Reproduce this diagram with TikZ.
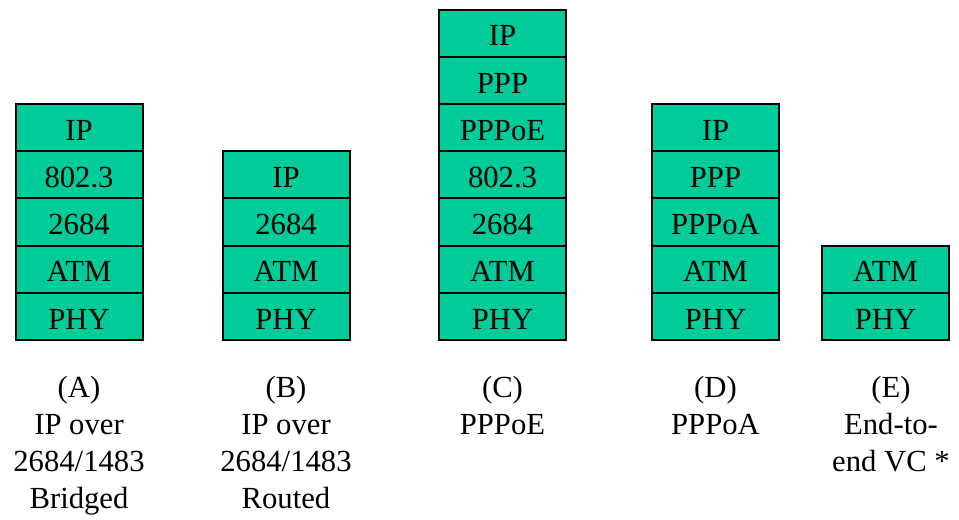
\documentclass[tikz,border=0pt]{standalone}
\usepackage{fontspec}
\setmainfont{Liberation Serif}
\definecolor{boxgreen}{HTML}{00CC99}
\begin{document}
\begin{tikzpicture}[x=0.75pt,y=-0.75pt,
  layer/.style={draw=black, fill=boxgreen, line width=1.5pt, minimum width=95.25pt,
    minimum height=35.4pt, inner sep=0pt, text height=18.9pt, text depth=0pt,
    font=\fontsize{23}{28}\selectfont},
  lbl/.style={anchor=base, inner sep=0pt, font=\fontsize{23}{28}\selectfont}]
\useasboundingbox (0,0) rectangle (959,519);
% row centers: bottom 340, height 47.2
\def\rh{47.2}
% Stack A
\node[layer] (a5) at (79,{340-0.5*\rh}) {PHY};
\node[layer] (a4) at (79,{340-1.5*\rh}) {ATM};
\node[layer] (a3) at (79,{340-2.5*\rh}) {2684};
\node[layer] (a2) at (79,{340-3.5*\rh}) {802.3};
\node[layer] (a1) at (79,{340-4.5*\rh}) {IP};
% Stack B
\node[layer] (b4) at (286,{340-0.5*\rh}) {PHY};
\node[layer] (b3) at (286,{340-1.5*\rh}) {ATM};
\node[layer] (b2) at (286,{340-2.5*\rh}) {2684};
\node[layer] (b1) at (286,{340-3.5*\rh}) {IP};
% Stack C
\node[layer] (c7) at (502.5,{340-0.5*\rh}) {PHY};
\node[layer] (c6) at (502.5,{340-1.5*\rh}) {ATM};
\node[layer] (c5) at (502.5,{340-2.5*\rh}) {2684};
\node[layer] (c4) at (502.5,{340-3.5*\rh}) {802.3};
\node[layer] (c3) at (502.5,{340-4.5*\rh}) {PPPoE};
\node[layer] (c2) at (502.5,{340-5.5*\rh}) {PPP};
\node[layer] (c1) at (502.5,{340-6.5*\rh}) {IP};
% Stack D
\node[layer] (d5) at (715.5,{340-0.5*\rh}) {PHY};
\node[layer] (d4) at (715.5,{340-1.5*\rh}) {ATM};
\node[layer] (d3) at (715.5,{340-2.5*\rh}) {PPPoA};
\node[layer] (d2) at (715.5,{340-3.5*\rh}) {PPP};
\node[layer] (d1) at (715.5,{340-4.5*\rh}) {IP};
% Stack E
\node[layer] (e2) at (885.5,{340-0.5*\rh}) {PHY};
\node[layer] (e1) at (885.5,{340-1.5*\rh}) {ATM};
% Labels
\node[lbl] (la1) at (79,397) {(A)};
\node[lbl] (la2) at (79,434) {IP over};
\node[lbl] (la3) at (79,471) {2684/1483};
\node[lbl] (la4) at (79,508) {Bridged};
\node[lbl] (lb1) at (286,397) {(B)};
\node[lbl] (lb2) at (286,434) {IP over};
\node[lbl] (lb3) at (286,471) {2684/1483};
\node[lbl] (lb4) at (286,508) {Routed};
\node[lbl] (lc1) at (502.5,397) {(C)};
\node[lbl] (lc2) at (502.5,434) {PPPoE};
\node[lbl] (ld1) at (715.5,397) {(D)};
\node[lbl] (ld2) at (715.5,434) {PPPoA};
\node[lbl] (le1) at (891,397) {(E)};
\node[lbl] (le2) at (891,434) {End-to-};
\node[lbl] (le3) at (891,471) {end VC *};
\end{tikzpicture}
\end{document}
